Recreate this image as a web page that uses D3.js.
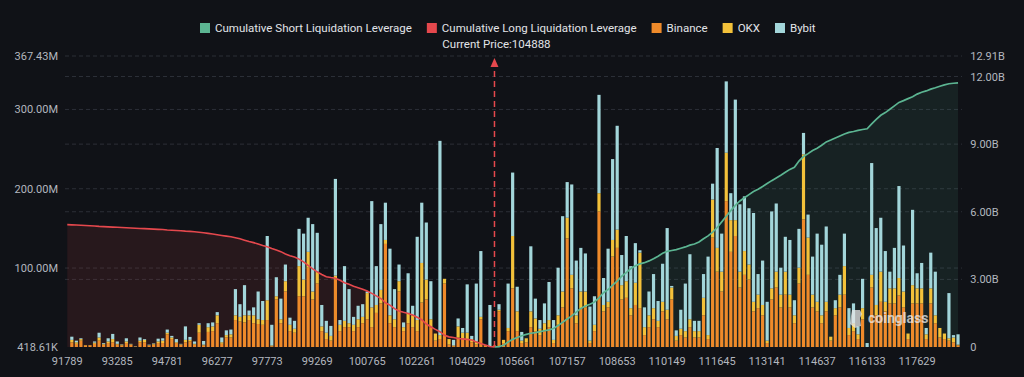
<!DOCTYPE html>
<html>
<head>
<meta charset="utf-8">
<script src="https://cdn.jsdelivr.net/npm/d3@7"></script>
<style>
  html, body { margin: 0; padding: 0; background: #101217; }
  svg { display: block; font-family: Roboto, "Noto Sans", sans-serif; }
</style>
</head>
<body>
<div id="chart"></div>
<script>
// Data (values in millions for bars, billions for cumulative lines)
const binance = [0,6,4,8,2,2,4,8,3,5,6,3,2,5,3,0.5,6,6,2,3,5,5,16,10,5,3,6,7,3,18,2,19,20,30,4,12,12,34,32,31,34,30,29,28,34,1,60,30,70,20,18,64,64,100,60,80,20,10,8,85,20,25,25,20,25,30,35,25,43,55,130,30,25,70,20,30,25,20,56,60,25,8,10,80,3,1,12,10,10,6,3,35,2,1,2,45,5,20,74,20,5,6,25,20,15,20,25,5,28,50,137,74,30,49,50,5,20,171,45,50,114,125,60,62,40,53,49,15,25,35,25,45,35,60,8,15,12,25,12,12,40,10,138,95,70,184,120,140,75,91,85,45,49,40,5,60,75,50,66,50,30,80,161,91,50,45,30,45,8,40,50,66,15,20,10,35,0,75,40,57,45,55,55,65,50,10,55,55,55,10,55,30,12,10,8,6,2];
const okx = [0,3,2,2,0.5,0.5,1.5,4,1,2,4,1,1,2,0.5,0.3,2,3,0.5,1,2,3,2,2,1,0.5,3,2,1,10,1,6,6,10,2,3,4,6,6,9,6,10,6,6,25,1,4,5,13,8,5,38,21,20,10,15,6,8,6,5,8,8,5,8,10,8,33,25,10,17,5,10,10,13,5,13,15,14,50,25,10,9,5,6,7,1,14,8,8,4,4,3,0.5,0,0,2,4,4,66,25,3,5,20,16,8,10,9,4,12,20,26,17,10,21,20,3,8,23,8,7,21,23,18,21,9,28,70,10,15,14,8,12,12,15,6,8,8,10,8,8,22,5,48,30,25,61,40,20,20,30,19,12,17,13,3,14,20,16,29,16,10,20,82,47,16,12,10,12,5,9,16,36,9,10,6,14,0,16,13,38,12,19,19,22,20,7,23,19,19,6,19,10,12,7,3,6,1];
const bybit = [0,4,2,1,0,0,1.5,6,1,4,6.5,3,0.4,4,0.5,0.2,4,1,0.5,0.6,3.5,3,4,2,4,0.5,17,3.7,3,2,4.6,5,5,4,6,6,6,33,16,38,6,10,35,24,81,26,24,26,21,9,10,47,58,43,85,49,27,15,12.6,122,6,69,43,10,17,16,2,134,49,83,47,84,38,21,6,50,12,105,76,72,48,0,245,0,0,7,10,6,61,4,73,83,0,52,0,7,0,56,80,31,11,0,82,25,11,25,48,25,60,95,45,114,69,55,48,43,36,124,34,67,102,131,38,57,53,50,3,25,30,43,25,48,103,2,7,24,60,82,13,13,30,99,20,126,48,90,34,152,85,69,71,112,26,56,49,97,86,34,44,69,19,49,27,29,48,86,89,95,0,10,25,41,25,25,10,37,5,141,97,68,64,21,51,116,58,0,95,19,32,8,45,55,0,0,57,3,13];

// Cumulative long leverage (billions) from index 0 to the current price index
const cumLong = [5.43,5.42,5.41,5.40,5.39,5.38,5.37,5.35,5.34,5.33,5.32,5.31,5.30,5.29,5.28,5.27,5.26,5.25,5.24,5.23,5.22,5.21,5.19,5.18,5.17,5.16,5.14,5.13,5.11,5.09,5.07,5.04,5.01,4.98,4.95,4.92,4.89,4.85,4.80,4.74,4.68,4.63,4.57,4.50,4.45,4.37,4.30,4.23,4.13,4.05,3.99,3.90,3.78,3.62,3.47,3.33,3.22,3.12,3.08,3.05,2.96,2.85,2.78,2.70,2.63,2.56,2.48,2.38,2.27,2.15,1.96,1.86,1.70,1.60,1.54,1.49,1.42,1.32,1.21,1.02,0.90,0.78,0.68,0.52,0.45,0.42,0.38,0.36,0.34,0.31,0.22,0.16,0.09,0.02,0];
// Cumulative short leverage (billions) from the current price index to the end
const cumShort = [0,0.02,0.08,0.22,0.34,0.42,0.50,0.56,0.61,0.64,0.68,0.72,0.76,0.82,0.95,1.10,1.24,1.38,1.55,1.71,1.82,1.90,2.00,2.18,2.41,2.55,2.74,2.92,3.14,3.30,3.48,3.60,3.69,3.74,3.82,3.92,4.03,4.16,4.24,4.28,4.32,4.38,4.44,4.52,4.57,4.66,4.80,4.93,5.10,5.30,5.55,5.80,6.05,6.28,6.48,6.62,6.76,6.90,7.00,7.12,7.25,7.38,7.50,7.62,7.75,7.88,7.97,8.25,8.45,8.58,8.72,8.82,8.95,9.10,9.18,9.27,9.36,9.45,9.52,9.56,9.61,9.65,9.68,9.90,10.10,10.28,10.40,10.55,10.70,10.85,10.93,11.02,11.10,11.22,11.30,11.36,11.44,11.50,11.57,11.63,11.68,11.70,11.72];
const currentIndex = 94;
const currentPrice = 104888;

const xTickIndex = [0,11,22,33,44,55,66,77,88,99,110,121,132,143,154,165,176,187];
const xTickLabels = ["91789","93285","94781","96277","97773","99269","100765","102261","104029","105661","107157","108653","110149","111645","113141","114637","116133","117629"];
const leftTicks = [0.41861,100,200,300,367.43];
const leftTickLabels = ["418.61K","100.00M","200.00M","300.00M","367.43M"];
const rightTicks = [0,3,6,9,12,12.91];
const rightTickLabels = ["0","3.00B","6.00B","9.00B","12.00B","12.91B"];

const legendItems = [
  { name: "Cumulative Short Liquidation Leverage", color: "#5cb592" },
  { name: "Cumulative Long Liquidation Leverage", color: "#e5484d" },
  { name: "Binance", color: "#ee8a2a" },
  { name: "OKX", color: "#f3c13a" },
  { name: "Bybit", color: "#a3d6da" }
];

const W = 1024, H = 377;
const margin = { left: 65, right: 960.3, top: 56, bottom: 347 };

const svg = d3.select("#chart").append("svg")
  .attr("width", W).attr("height", H);

svg.append("rect").attr("width", W).attr("height", H).attr("fill", "#101217");

const n = 197;
const x = d3.scaleBand()
  .domain(d3.range(n))
  .range([margin.left, margin.right])
  .paddingInner(0.3)
  .paddingOuter(0.15);
const cx = i => x(i) + x.bandwidth() / 2;

const yL = d3.scaleLinear().domain([0.41861, 367.43]).range([margin.bottom, margin.top]);
const yR = d3.scaleLinear().domain([0, 12.91]).range([margin.bottom, margin.top]);

// Gridlines (both axes)
const grid = svg.append("g");
leftTicks.slice(1).forEach(v => {
  grid.append("line").attr("x1", margin.left).attr("x2", 962).attr("y1", yL(v)).attr("y2", yL(v))
    .attr("stroke", "#2b2f37").attr("stroke-dasharray", "4,3");
});
rightTicks.slice(1, 5).forEach(v => {
  grid.append("line").attr("x1", margin.left).attr("x2", 962).attr("y1", yR(v)).attr("y2", yR(v))
    .attr("stroke", "#2b2f37").attr("stroke-dasharray", "4,3");
});

// Cumulative areas
const longPts = cumLong.map((v, i) => [i, v]);
const shortPts = cumShort.map((v, i) => [i + currentIndex, v]);

const area = d3.area().x(d => cx(d[0])).y0(margin.bottom).y1(d => yR(d[1]));
const line = d3.line().x(d => cx(d[0])).y(d => yR(d[1]));

svg.append("path").datum(longPts).attr("d", area).attr("fill", "#e5484d").attr("fill-opacity", 0.11);
svg.append("path").datum(shortPts).attr("d", area).attr("fill", "#5cb592").attr("fill-opacity", 0.1);

// Stacked bars
const rows = d3.range(n).map(i => ({ i, binance: binance[i] || 0, okx: okx[i] || 0, bybit: bybit[i] || 0 }));
const stack = d3.stack().keys(["binance", "okx", "bybit"]);
const series = stack(rows);
const barColors = { binance: "#ee8a2a", okx: "#f3c13a", bybit: "#a3d6da" };

svg.append("g").selectAll("g")
  .data(series)
  .join("g")
  .attr("fill", d => barColors[d.key])
  .selectAll("rect")
  .data(d => d)
  .join("rect")
  .attr("x", d => x(d.data.i))
  .attr("width", x.bandwidth())
  .attr("y", d => yL(d[1] + 0.41861))
  .attr("height", d => Math.max(0, yL(d[0] + 0.41861) - yL(d[1] + 0.41861)));

// Lines
svg.append("path").datum(longPts).attr("d", line).attr("fill", "none")
  .attr("stroke", "#e5484d").attr("stroke-width", 1.6);
svg.append("path").datum(shortPts).attr("d", line).attr("fill", "none")
  .attr("stroke", "#5cb592").attr("stroke-width", 1.7);

// Current price marker
const px = cx(currentIndex);
svg.append("line").attr("x1", px).attr("x2", px).attr("y1", margin.bottom).attr("y2", 66)
  .attr("stroke", "#e5484d").attr("stroke-width", 1.5).attr("stroke-dasharray", "6,4");
svg.append("path")
  .attr("d", `M${px},58 L${px - 4},67 L${px + 4},67 Z`)
  .attr("fill", "#e5484d");
svg.append("text").attr("x", px + 2).attr("y", 48)
  .attr("text-anchor", "middle").attr("fill", "#e2e4e8").attr("font-size", 11.5)
  .text("Current Price:" + currentPrice);

// Axes
const axisL = svg.append("g").attr("transform", `translate(${margin.left - 5},0)`)
  .call(d3.axisLeft(yL).tickValues(leftTicks).tickSize(0).tickPadding(2)
    .tickFormat((d, i) => leftTickLabels[i]));
const axisR = svg.append("g").attr("transform", `translate(${margin.right + 8},0)`)
  .call(d3.axisRight(yR).tickValues(rightTicks).tickSize(0).tickPadding(2)
    .tickFormat((d, i) => rightTickLabels[i]));
const axisB = svg.append("g").attr("transform", `translate(0,${margin.bottom + 8})`)
  .call(d3.axisBottom(x).tickValues(xTickIndex).tickSize(0).tickPadding(2)
    .tickFormat((d, i) => xTickLabels[i]));

[axisL, axisR, axisB].forEach(a => {
  a.select(".domain").remove();
  a.selectAll("text").attr("fill", "#b3b7bf").attr("font-size", 11)
    .attr("font-family", "Roboto, sans-serif");
});

// Legend
const legend = svg.append("g").attr("transform", "translate(200,28)");
let lx = 0;
legendItems.forEach(item => {
  const g = legend.append("g").attr("transform", `translate(${lx},0)`);
  g.append("rect").attr("x", 0).attr("y", -5).attr("width", 10).attr("height", 10).attr("fill", item.color);
  const t = g.append("text").attr("x", 15).attr("y", 4).attr("fill", "#e2e4e8").attr("font-size", 11.5)
    .text(item.name);
  lx += 15 + t.node().getComputedTextLength() + 15;
});

// Watermark
const wm = svg.append("g").attr("transform", "translate(852,318)").attr("opacity", 0.75);
wm.append("path").attr("d", "M0,-8 L8,-8 L10,-4 L8,0 L9,8 L3,10 L-2,6 L-1,-2 Z").attr("fill", "#e8e8e8");
wm.append("text").attr("x", 16).attr("y", 5).attr("fill", "#ececec").attr("font-size", 14)
  .attr("font-weight", "bold").text("coinglass");
</script>
</body>
</html>
